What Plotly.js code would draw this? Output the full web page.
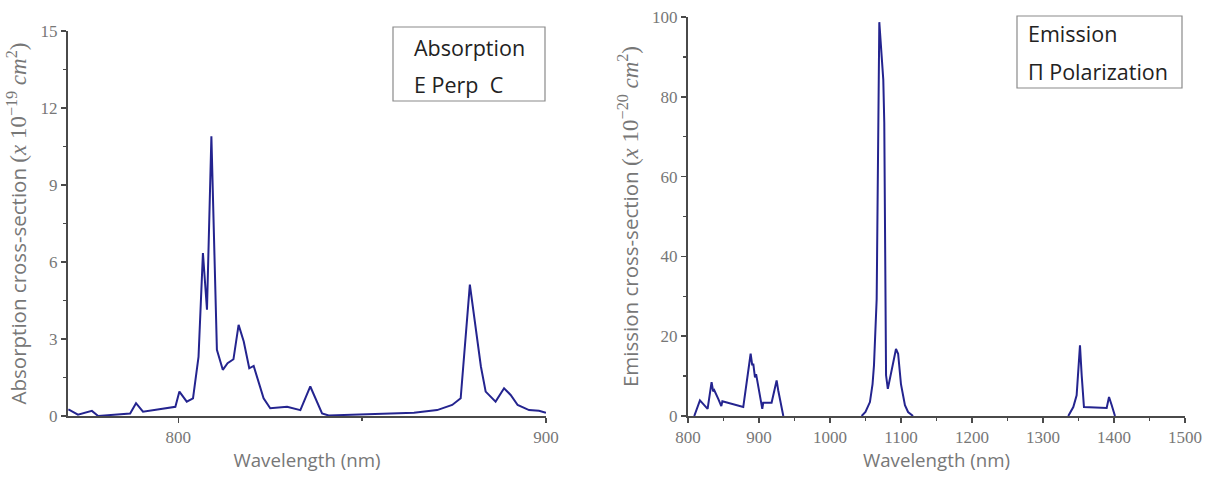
<!DOCTYPE html>
<html><head><meta charset="utf-8">
<script src="https://cdn.plot.ly/plotly-3.0.1.min.js"></script>
<style>html,body{margin:0;padding:0;background:#fff}#chart{width:1215px;height:480px}</style>
</head><body><div id="chart"></div>
<script>
// Absorption (E perp C), cross-section x 1e-19 cm^2
const absWavelength = [770.1, 772.7, 776.5, 778.2, 786.9, 788.5, 790.4, 798.3, 799.2, 800.3, 802.3, 804.0, 805.5, 806.7, 807.8, 809.0, 810.5, 812.1, 813.4, 815.0, 816.4, 817.8, 819.3, 820.5, 821.9, 823.2, 825.0, 829.6, 833.2, 835.9, 839.1, 840.9, 864.1, 870.4, 874.5, 876.8, 879.3, 882.3, 883.6, 886.3, 888.6, 890.4, 892.3, 895.4, 898.1, 900.0];
const absCross = [0.26, 0.05, 0.2, 0.0, 0.1, 0.5, 0.17, 0.34, 0.36, 0.95, 0.56, 0.69, 2.3, 6.35, 4.14, 10.9, 2.58, 1.8, 2.06, 2.21, 3.55, 2.9, 1.86, 1.95, 1.28, 0.69, 0.3, 0.36, 0.23, 1.15, 0.1, 0.02, 0.13, 0.23, 0.43, 0.69, 5.12, 1.93, 0.95, 0.56, 1.08, 0.82, 0.43, 0.23, 0.2, 0.13];

// Emission (Pi polarization), cross-section x 1e-20 cm^2 (null = gap)
const emWavelength = [808.9, 816.9, 827.7, 833.3, 835.5, 837.0, 842.7, 847.0, 848.5, 877.9, 888.3, 890.6, 892.0, 894.4, 896.0, 904.7, 906.0, 917.8, 924.9, 927.2, 934.3, 990,
  1044.6, 1050.0, 1056.3, 1060.0, 1062.0, 1064.0, 1065.8, 1069.5, 1075.1, 1076.5, 1077.5, 1078.2, 1079.0, 1081.5, 1086.0, 1090.0, 1093.0, 1096.0, 1098.0, 1100.0, 1105.6, 1110.0, 1117.0, 1200,
  1335.6, 1342.7, 1347.4, 1352.1, 1354.5, 1357.7, 1389.7, 1393.0, 1396.8, 1401.4];
const emCross = [0, 3.9, 1.8, 8.5, 6.2, 6.5, 4.3, 2.5, 3.7, 2.25, 15.6, 12.7, 13.1, 9.7, 10.5, 1.8, 3.3, 3.3, 8.9, 6.4, 0, null,
  0, 1.0, 3.5, 8.0, 12.7, 22.0, 29.3, 98.7, 84.3, 73.5, 47.0, 20.0, 10.2, 6.8, 11.0, 15.0, 16.8, 15.6, 11.4, 8.0, 2.7, 1.0, 0, null,
  0, 2.25, 5.2, 17.7, 10.2, 2.25, 2.0, 4.75, 2.7, 0];

const absXTicks = [800, 900];
const absYTicks = [0, 3, 6, 9, 12, 15];
const emXTicks = [800, 900, 1000, 1100, 1200, 1300, 1400, 1500];
const emYTicks = [0, 20, 40, 60, 80, 100];

const lineColor = '#24248f';
const axisColor = '#4a4a4a';
const tickFont = {family: 'Liberation Serif, serif', size: 17, color: '#777'};
const xTitleFont = {family: 'Open Sans, sans-serif', size: 18.7, color: '#777'};
const yTitleFont = {family: 'Open Sans, sans-serif', size: 20.5, color: '#777'};
const mathSpan = s => '<span style="font-family:Liberation Serif;font-size:23px">' + s + '</span>';
const boxFont = {family: 'Open Sans, sans-serif', size: 21.5, color: '#222'};

function axisBase(extra) {
  return Object.assign({
    showline: true, linecolor: axisColor, linewidth: 2,
    ticks: 'outside', ticklen: 5, tickwidth: 1.5, tickcolor: axisColor,
    showgrid: false, zeroline: false, tickfont: tickFont,
    fixedrange: true
  }, extra);
}

const traces = [
  {x: absWavelength, y: absCross, xaxis: 'x', yaxis: 'y', type: 'scatter', mode: 'lines',
   line: {color: lineColor, width: 2}, showlegend: false, hoverinfo: 'skip'},
  {x: emWavelength, y: emCross, xaxis: 'x2', yaxis: 'y2', type: 'scatter', mode: 'lines',
   connectgaps: false, line: {color: lineColor, width: 2}, showlegend: false, hoverinfo: 'skip'}
];

const layout = {
  width: 1215, height: 480,
  margin: {l: 68, r: 30, t: 17, b: 64},
  paper_bgcolor: '#fff', plot_bgcolor: '#fff',
  showlegend: false,
  xaxis: axisBase({domain: [0, 0.4279], range: [770, 900], tickvals: absXTicks,
    minor: {dtick: 50, tick0: 800, ticks: 'outside', ticklen: 3, tickcolor: axisColor},
    title: {text: 'Wavelength (nm)', font: xTitleFont, standoff: 8}, anchor: 'y'}),
  yaxis: axisBase({domain: [0, 0.9649], range: [0, 15], tickvals: absYTicks,
    minor: {dtick: 1.5, tick0: 0, ticks: 'outside', ticklen: 3, tickcolor: axisColor},
    title: {text: 'Absorption cross-section ' + mathSpan('(<i>x</i> 10<sup>−19</sup> <i>cm</i><sup>2</sup>)'), font: yTitleFont, standoff: 8}, anchor: 'x'}),
  xaxis2: axisBase({domain: [0.555, 1], range: [800, 1500], tickvals: emXTicks,
    minor: {dtick: 50, tick0: 800, ticks: 'outside', ticklen: 3, tickcolor: axisColor},
    title: {text: 'Wavelength (nm)', font: xTitleFont, standoff: 8}, anchor: 'y2'}),
  yaxis2: axisBase({domain: [0, 1], range: [0, 100], tickvals: emYTicks,
    minor: {dtick: 10, tick0: 0, ticks: 'outside', ticklen: 3, tickcolor: axisColor},
    title: {text: 'Emission cross-section ' + mathSpan('(<i>x</i> 10<sup>−20</sup> <i>cm</i><sup>2</sup>)'), font: yTitleFont, standoff: 8}, anchor: 'x2'}),
  shapes: [
    {type: 'rect', xref: 'paper', yref: 'paper', x0: (393-68)/1117, x1: (545-68)/1117, y0: (416-101)/399, y1: (416-27)/399,
     line: {color: '#8a8a8a', width: 1.2}, fillcolor: 'rgba(0,0,0,0)'},
    {type: 'rect', xref: 'paper', yref: 'paper', x0: (1017-68)/1117, x1: (1182-68)/1117, y0: (416-88)/399, y1: (416-16)/399,
     line: {color: '#8a8a8a', width: 1.2}, fillcolor: 'rgba(0,0,0,0)'}
  ],
  annotations: [
    {text: 'Absorption', xref: 'paper', yref: 'paper', x: (412-68)/1117, y: (416-47)/399, xanchor: 'left', yanchor: 'middle', showarrow: false, font: boxFont},
    {text: 'E Perp  C', xref: 'paper', yref: 'paper', x: (412-68)/1117, y: (416-84)/399, xanchor: 'left', yanchor: 'middle', showarrow: false, font: boxFont},
    {text: 'Emission', xref: 'paper', yref: 'paper', x: (1026-68)/1117, y: (416-33)/399, xanchor: 'left', yanchor: 'middle', showarrow: false, font: boxFont},
    {text: 'Π Polarization', xref: 'paper', yref: 'paper', x: (1026-68)/1117, y: (416-71)/399, xanchor: 'left', yanchor: 'middle', showarrow: false, font: boxFont}
  ]
};

Plotly.newPlot('chart', traces, layout, {displayModeBar: false, staticPlot: true});
</script>
</body></html>
